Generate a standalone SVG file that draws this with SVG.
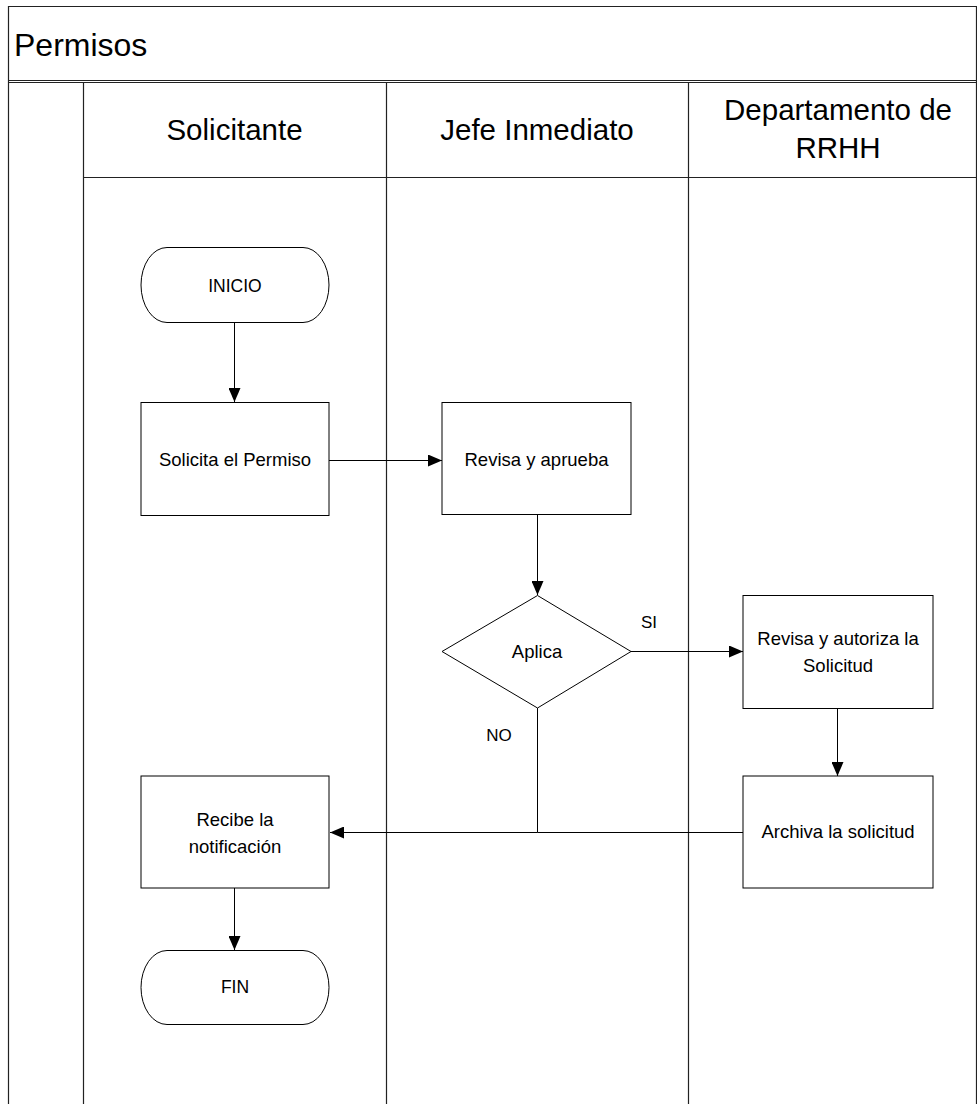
<svg xmlns="http://www.w3.org/2000/svg" width="977" height="1104" viewBox="0 0 977 1104">
  <style>
    .frame { fill: none; stroke: #222; stroke-width: 1.2; }
    .shape { fill: #fff; stroke: #000; stroke-width: 1; }
    .conn { fill: none; stroke: #000; stroke-width: 1; }
    .title { font-family: "Liberation Sans", Arial, sans-serif; font-size: 32px; fill: #000; }
    .lane { font-family: "Liberation Sans", Arial, sans-serif; font-size: 29.5px; fill: #000; text-anchor: middle; }
    .lbl { font-family: "Liberation Sans", Arial, sans-serif; font-size: 18.5px; fill: #000; text-anchor: middle; }
    .caps { font-size: 17.5px; }
    .edge { font-family: "Liberation Sans", Arial, sans-serif; font-size: 17px; fill: #000; text-anchor: middle; }
  </style>
  <defs>
    <marker id="arrow" viewBox="0 0 14 12" refX="14" refY="6" markerWidth="14" markerHeight="12" markerUnits="userSpaceOnUse" orient="auto">
      <path d="M0,0 L14,6 L0,12 Z" fill="#000"/>
    </marker>
  </defs>

  <rect width="977" height="1104" fill="#fff"/>

  <!-- pool frame and lanes -->
  <g id="pool">
    <line class="frame" x1="8" y1="6.5" x2="977" y2="6.5"/>
    <line class="frame" x1="8.5" y1="6" x2="8.5" y2="1104"/>
    <line class="frame" x1="976.5" y1="6" x2="976.5" y2="1104"/>
    <line class="frame" x1="8" y1="80.5" x2="977" y2="80.5"/>
    <line class="frame" x1="8" y1="82.5" x2="977" y2="82.5" stroke-width="0.8"/>
    <text class="title" x="14" y="56">Permisos</text>
    <line class="frame" x1="83.5" y1="82" x2="83.5" y2="1104"/>
    <line class="frame" x1="386.5" y1="82" x2="386.5" y2="1104" stroke-width="1"/>
    <line class="frame" x1="688.5" y1="82" x2="688.5" y2="1104" stroke-width="1"/>
    <line class="frame" x1="83" y1="177.5" x2="977" y2="177.5"/>
    <text class="lane" x="234.5" y="140">Solicitante</text>
    <text class="lane" x="537" y="140">Jefe Inmediato</text>
    <text class="lane" x="838" y="120">Departamento de</text>
    <text class="lane" x="838" y="158">RRHH</text>
  </g>

  <!-- connectors -->
  <g id="connectors">
    <line class="conn" x1="234.5" y1="322" x2="234.5" y2="402" marker-end="url(#arrow)"/>
    <line class="conn" x1="329" y1="460.5" x2="442" y2="460.5" marker-end="url(#arrow)"/>
    <line class="conn" x1="537.5" y1="515" x2="537.5" y2="595" marker-end="url(#arrow)"/>
    <line class="conn" x1="631" y1="651.5" x2="743" y2="651.5" marker-end="url(#arrow)"/>
    <line class="conn" x1="837.5" y1="708" x2="837.5" y2="776" marker-end="url(#arrow)"/>
    <polyline class="conn" points="537.5,708 537.5,832.5 330,832.5" marker-end="url(#arrow)"/>
    <line class="conn" x1="743" y1="832.5" x2="537.5" y2="832.5"/>
    <line class="conn" x1="234.5" y1="888" x2="234.5" y2="950" marker-end="url(#arrow)"/>
    <text class="edge" x="649" y="628">SI</text>
    <text class="edge" x="499" y="741">NO</text>
  </g>

  <g id="inicio">
    <rect class="shape" x="141" y="247.5" width="188" height="75" rx="26" ry="37.5"/>
    <text class="lbl caps" x="235" y="292">INICIO</text>
  </g>

  <g id="solicita">
    <rect class="shape" x="141" y="402.5" width="188" height="113"/>
    <text class="lbl" x="235" y="466">Solicita el Permiso</text>
  </g>

  <g id="revisa-aprueba">
    <rect class="shape" x="442" y="402.5" width="189" height="112"/>
    <text class="lbl" x="536.5" y="466">Revisa y aprueba</text>
  </g>

  <g id="aplica">
    <polygon class="shape" points="537.5,595.5 631,651.5 537.5,708 442,651.5"/>
    <text class="lbl" x="537" y="658">Aplica</text>
  </g>

  <g id="revisa-autoriza">
    <rect class="shape" x="743" y="595.5" width="190" height="113"/>
    <text class="lbl" x="838" y="645">Revisa y autoriza la</text>
    <text class="lbl" x="838" y="672">Solicitud</text>
  </g>

  <g id="archiva">
    <rect class="shape" x="743" y="776" width="190" height="112"/>
    <text class="lbl" x="838" y="838">Archiva la solicitud</text>
  </g>

  <g id="recibe">
    <rect class="shape" x="141" y="776" width="188" height="112"/>
    <text class="lbl" x="235" y="826">Recibe la</text>
    <text class="lbl" x="235" y="853">notificación</text>
  </g>

  <g id="fin">
    <rect class="shape" x="141" y="950.5" width="188" height="74" rx="26" ry="37"/>
    <text class="lbl caps" x="235" y="993">FIN</text>
  </g>
</svg>
